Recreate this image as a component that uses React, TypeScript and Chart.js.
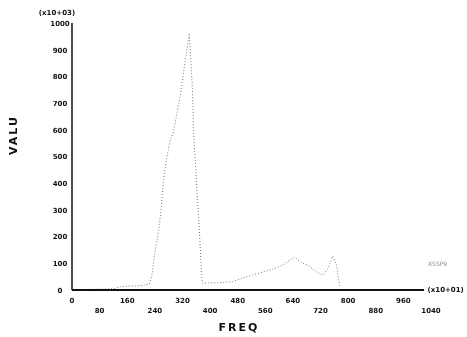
import React, { useEffect, useRef } from "react";
import { Chart, registerables } from "chart.js";

Chart.register(...registerables);

const freq = [0, 40, 80, 120, 140, 160, 180, 200, 224, 233, 238, 251, 258, 264, 272, 284, 293, 313, 328, 340, 349, 352, 363, 369, 375, 378, 427, 465, 494, 523, 552, 581, 610, 645, 668, 683, 709, 726, 741, 755, 767, 770, 776];
const valu = [2, 2, 3, 5, 12, 15, 15, 17, 22, 64, 123, 224, 299, 400, 475, 561, 587, 722, 860, 961, 748, 599, 348, 224, 64, 26, 27, 31, 45, 56, 67, 78, 93, 123, 100, 93, 67, 56, 78, 127, 93, 56, 15];

const xTicks = [0, 80, 160, 240, 320, 400, 480, 560, 640, 720, 800, 880, 960, 1040];
const xTickLabels = ["0", "80", "160", "240", "320", "400", "480", "560", "640", "720", "800", "880", "960", "1040"];
const yTicks = [0, 100, 200, 300, 400, 500, 600, 700, 800, 900, 1000];
const yTickLabels = ["0", "100", "200", "300", "400", "500", "600", "700", "800", "900", "1000"];

const xTitle = "FREQ";
const yTitle = "VALU";
const yExp = "(x10+03)";
const xExp = "(x10+01)";
const curveLabel = "XSSP9";

export default function App() {
  const ref = useRef<HTMLCanvasElement | null>(null);
  useEffect(() => {
    if (!ref.current) return;
    const deco = {
      id: "deco",
      afterDraw(chart: any) {
        const ctx = chart.ctx;
        const xs = chart.scales.x;
        const ys = chart.scales.y;
        const x0 = xs.getPixelForValue(0);
        const y0 = ys.getPixelForValue(0);
        const yTop = ys.getPixelForValue(1000);
        const xEnd = xs.getPixelForValue(1020);
        ctx.save();
        ctx.strokeStyle = "#111";
        ctx.lineWidth = 1.5;
        ctx.beginPath();
        ctx.moveTo(x0, yTop);
        ctx.lineTo(x0, y0);
        ctx.stroke();
        ctx.lineWidth = 2;
        ctx.beginPath();
        ctx.moveTo(x0, y0);
        ctx.lineTo(xEnd, y0);
        ctx.stroke();
        ctx.fillStyle = "#111";
        ctx.font = "bold 7px 'DejaVu Sans'";
        ctx.textAlign = "center";
        ctx.textBaseline = "middle";
        xTicks.forEach((v, i) => {
          const px = xs.getPixelForValue(v);
          ctx.fillText(xTickLabels[i], px, i % 2 === 0 ? y0 + 11 : y0 + 21);
        });
        yTicks.forEach((v, i) => {
          const py = ys.getPixelForValue(v);
          ctx.fillText(yTickLabels[i], x0 - 12, py + 1);
        });
        ctx.fillText(yExp, x0 - 15, yTop - 10);
        ctx.textAlign = "left";
        ctx.fillText(xExp, xs.getPixelForValue(1030), y0);
        ctx.fillStyle = "#888";
        ctx.font = "6px 'DejaVu Sans'";
        ctx.fillText(curveLabel, 428, ys.getPixelForValue(95));
        ctx.fillStyle = "#111";
        ctx.font = "bold 11px 'DejaVu Sans'";
        ctx.textAlign = "center";
        (ctx as any).letterSpacing = "2px";
        ctx.fillText(xTitle, 239, 328);
        ctx.translate(14, 135);
        ctx.rotate(-Math.PI / 2);
        ctx.fillText(yTitle, 0, 0);
        ctx.restore();
      },
    };
    const chart = new Chart(ref.current, {
      type: "line",
      data: {
        datasets: [
          {
            data: freq.map((f, i) => ({ x: f, y: valu[i] })),
            borderColor: "#777",
            borderWidth: 1,
            borderDash: [1, 2],
            pointRadius: 0,
            tension: 0,
            fill: false,
          },
        ],
      },
      options: {
        animation: false,
        responsive: false,
        events: [],
        layout: { padding: { left: 72, right: 36, top: 23, bottom: 47 } },
        plugins: { legend: { display: false }, tooltip: { enabled: false } },
        scales: {
          x: { type: "linear", min: 0, max: 1040, display: false },
          y: { type: "linear", min: 0, max: 1000, display: false },
        },
      },
      plugins: [deco],
    });
    return () => chart.destroy();
  }, []);
  return (
    <div style={{ position: "absolute", left: 0, top: 0, width: 467, height: 337, background: "#fff" }}>
      <canvas ref={ref} width={467} height={337} />
    </div>
  );
}
